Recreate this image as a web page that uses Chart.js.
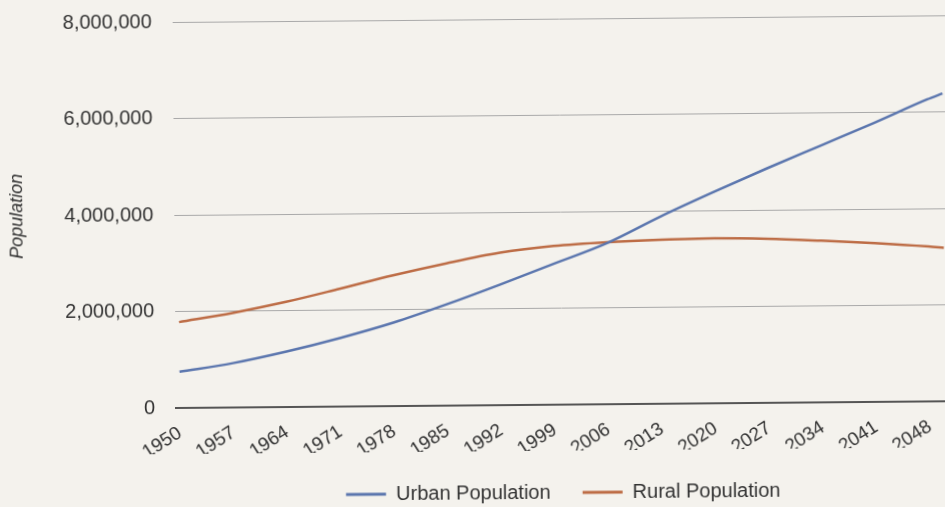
<!DOCTYPE html>
<html>
<head>
<meta charset="utf-8">
<script src="https://cdn.jsdelivr.net/npm/chart.js@4.4.1/dist/chart.umd.min.js"></script>
<style>
    html, body { margin: 0; padding: 0; background: #f4f2ed; overflow: hidden; }
    #wrap { width: 960px; height: 507px; transform: rotate(-0.5deg); transform-origin: 176px 408px; }
</style>
</head>
<body>
<div id="wrap"><canvas id="popChart" width="960" height="507"></canvas></div>
<script>
    // years where the curves were sampled, and the world totals at each
    const sampleYears = [1950, 1957, 1964, 1971, 1978, 1985, 1992, 1999, 2006, 2013, 2020, 2027, 2034, 2041, 2048, 2050];
    const urbanPop = [750000, 920000, 1150000, 1420000, 1730000, 2100000, 2500000, 2920000, 3340000, 3880000, 4380000, 4860000, 5320000, 5780000, 6260000, 6380000];
    const ruralPop = [1780000, 1960000, 2180000, 2440000, 2710000, 2950000, 3160000, 3290000, 3360000, 3400000, 3420000, 3400000, 3350000, 3290000, 3210000, 3180000];

    const tickYears = [1950, 1957, 1964, 1971, 1978, 1985, 1992, 1999, 2006, 2013, 2020, 2027, 2034, 2041, 2048];
    const yTicks = [0, 2000000, 4000000, 6000000, 8000000];

    const FONT = '"Liberation Sans", Arial, sans-serif';
    const TEXT = '#333333';
    const URBAN = '#5b76ae';
    const RURAL = '#bd6c45';

    const toPoints = (vals) => vals.map((v, i) => ({ x: sampleYears[i], y: v }));

    new Chart(document.getElementById('popChart'), {
        type: 'line',
        data: {
            datasets: [
                { label: 'Urban Population', data: toPoints(urbanPop), borderColor: URBAN, backgroundColor: URBAN, borderWidth: 2.5, pointRadius: 0, cubicInterpolationMode: 'monotone' },
                { label: 'Rural Population', data: toPoints(ruralPop), borderColor: RURAL, backgroundColor: RURAL, borderWidth: 2.5, pointRadius: 0, cubicInterpolationMode: 'monotone' }
            ]
        },
        options: {
            responsive: false,
            animation: false,
            layout: { padding: { top: 22, right: 11, bottom: 0, left: 0 } },
            plugins: {
                tooltip: { enabled: false },
                legend: {
                    position: 'bottom',
                    fullSize: false,
                    maxHeight: 53,
                    labels: {
                        color: TEXT,
                        font: { family: FONT, size: 20 },
                        boxWidth: 40,
                        boxHeight: 3,
                        padding: 32,
                        generateLabels: (chart) => Chart.defaults.plugins.legend.labels.generateLabels(chart)
                            .map(item => Object.assign(item, { lineWidth: 0 }))
                    }
                }
            },
            scales: {
                x: {
                    type: 'linear',
                    min: 1949.5,
                    max: 2050.5,
                    afterBuildTicks: (scale) => { scale.ticks = tickYears.map(v => ({ value: v })); },
                    afterFit: (scale) => { scale.height = 46; },
                    grid: { display: false, drawTicks: false },
                    border: { display: true, color: '#555', width: 2 },
                    ticks: {
                        autoSkip: false,
                        minRotation: 32,
                        maxRotation: 32,
                        padding: 14,
                        color: TEXT,
                        font: { family: FONT, size: 19 },
                        callback: (v) => String(v)
                    }
                },
                y: {
                    min: 0,
                    max: 8000000,
                    afterBuildTicks: (scale) => { scale.ticks = yTicks.map(v => ({ value: v })); },
                    afterFit: (scale) => { scale.width = 176; },
                    // invisible tick marks keep the labels clear of the plot
                    grid: { color: '#a9a9a9', lineWidth: 1, drawTicks: true, tickLength: 21, tickColor: 'rgba(0,0,0,0)' },
                    border: { display: false },
                    ticks: {
                        padding: 0,
                        color: TEXT,
                        font: { family: FONT, size: 20 },
                        callback: (v) => v.toLocaleString('en-US')
                    },
                    title: {
                        display: true,
                        text: 'Population',
                        color: TEXT,
                        font: { family: FONT, size: 18, style: 'italic' },
                        padding: { top: 8, bottom: 0 }
                    }
                }
            }
        }
    });
</script>
</body>
</html>
